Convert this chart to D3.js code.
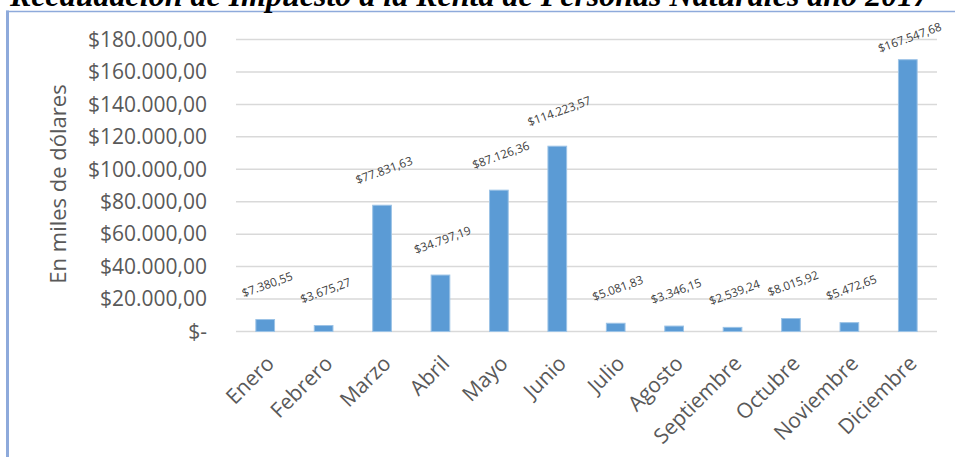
<!DOCTYPE html>
<html>
<head>
<meta charset="utf-8">
<script src="https://cdn.jsdelivr.net/npm/d3@7"></script>
<style>
  body { margin: 0; background: #fff; }
  svg { display: block; }
</style>
</head>
<body>
<svg id="chart" width="955" height="457"></svg>
<script>
// Recaudación mensual 2017 (miles de dólares)
const months = ['Enero', 'Febrero', 'Marzo', 'Abril', 'Mayo', 'Junio', 'Julio',
	'Agosto', 'Septiembre', 'Octubre', 'Noviembre', 'Diciembre'];
const values = [7380.55, 3675.27, 77831.63, 34797.19, 87126.36, 114223.57, 5081.83,
	3346.15, 2539.24, 8015.92, 5472.65, 167547.68];
const yTicks = [0, 20000, 40000, 60000, 80000, 100000, 120000, 140000, 160000, 180000];

const titleText = 'Recaudación de Impuesto a la Renta de Personas Naturales año 2017';
const yTitle = 'En miles de dólares';

const svgWidth = 955;
const svgHeight = 457;
const margin = { top: 39.5, right: 18, bottom: 125.5, left: 236 };
const width = svgWidth - margin.left - margin.right;
const height = svgHeight - margin.top - margin.bottom;

const fontFamily = '"Open Sans", "Noto Sans", sans-serif';

// number format: $1.234,56
const locale = d3.formatLocale({ decimal: ',', thousands: '.', grouping: [3], currency: ['$', ''] });
const fmt = locale.format('$,.2f');

const svg = d3.select('#chart');

/* frame lines round the figure */
svg.append('line')
	.attr('x1', 7.5).attr('x2', 7.5)
	.attr('y1', 10.5).attr('y2', svgHeight)
	.attr('stroke', '#8eaadb').attr('stroke-width', 3);
svg.append('line')
	.attr('x1', 6).attr('x2', svgWidth)
	.attr('y1', 11.5).attr('y2', 11.5)
	.attr('stroke', '#8eaadb').attr('stroke-width', 1.5);

// title, clipped at top as in the document
svg.append('text')
	.attr('x', 10)
	.attr('y', 6)
	.attr('font-family', '"Liberation Serif", "Times New Roman", serif')
	.attr('font-weight', 'bold')
	.attr('font-style', 'italic')
	.attr('font-size', 32)
	.attr('fill', '#000')
	.text(titleText);

const g = svg.append('g')
	.attr('transform', 'translate(' + margin.left + ',' + margin.top + ')');

const xScale = d3.scaleBand()
	.domain(months)
	.range([0, width])
	.paddingInner(0.68)
	.paddingOuter(0.34);

const yScale = d3.scaleLinear()
	.domain([0, 180000])
	.range([height, 0]);

// gridlines
g.append('g')
	.selectAll('line')
	.data(yTicks)
	.join('line')
	.attr('x1', 0).attr('x2', width)
	.attr('y1', (d) => yScale(d)).attr('y2', (d) => yScale(d))
	.attr('stroke', '#d9d9d9')
	.attr('stroke-width', 1.5);

// y axis labels
const yAxis = d3.axisLeft(yScale)
	.tickValues(yTicks)
	.tickSize(0)
	.tickPadding(29)
	.tickFormat((d) => d === 0 ? '$-' : fmt(d));

g.append('g')
	.attr('class', 'y axis')
	.call(yAxis)
	.call((s) => s.select('.domain').remove())
	.selectAll('text')
	.attr('font-family', fontFamily)
	.attr('font-size', 21)
	.attr('fill', '#595959');

// x axis labels
const xAxis = d3.axisBottom(xScale).tickSize(0).tickPadding(0);
g.append('g')
	.attr('class', 'x axis')
	.attr('transform', 'translate(0,' + height + ')')
	.call(xAxis)
	.call((s) => s.select('.domain').remove())
	.selectAll('text')
	.attr('font-family', fontFamily)
	.attr('font-size', 21)
	.attr('fill', '#595959')
	.attr('text-anchor', 'end')
	.attr('dy', '0.35em')
	.attr('transform', 'translate(5,28) rotate(-45)');

// bars
g.append('g')
	.selectAll('rect')
	.data(values)
	.join('rect')
	.attr('x', (d, i) => xScale(months[i]))
	.attr('y', (d) => yScale(d))
	.attr('width', xScale.bandwidth())
	.attr('height', (d) => height - yScale(d))
	.attr('fill', '#5b9bd5')
	.attr('stroke', '#9cc3e6')
	.attr('stroke-width', 1);

// data labels (kept inside the chart area at the top)
g.append('g')
	.selectAll('text')
	.data(values)
	.join('text')
	.attr('transform', (d, i) => {
		const cx = xScale(months[i]) + xScale.bandwidth() / 2 + 2;
		const cy = Math.max(yScale(d) - 35, -2);
		return 'translate(' + cx + ',' + cy + ') rotate(-20)';
	})
	.attr('text-anchor', 'middle')
	.attr('dy', '0.35em')
	.attr('font-family', fontFamily)
	.attr('font-size', 11.7)
	.attr('fill', '#404040')
	.text((d) => fmt(d));

// y axis title
svg.append('text')
	.attr('transform', 'translate(58,184) rotate(-90)')
	.attr('text-anchor', 'middle')
	.attr('dy', '0.35em')
	.attr('font-family', fontFamily)
	.attr('font-size', 22)
	.attr('fill', '#595959')
	.text(yTitle);
</script>
</body>
</html>
